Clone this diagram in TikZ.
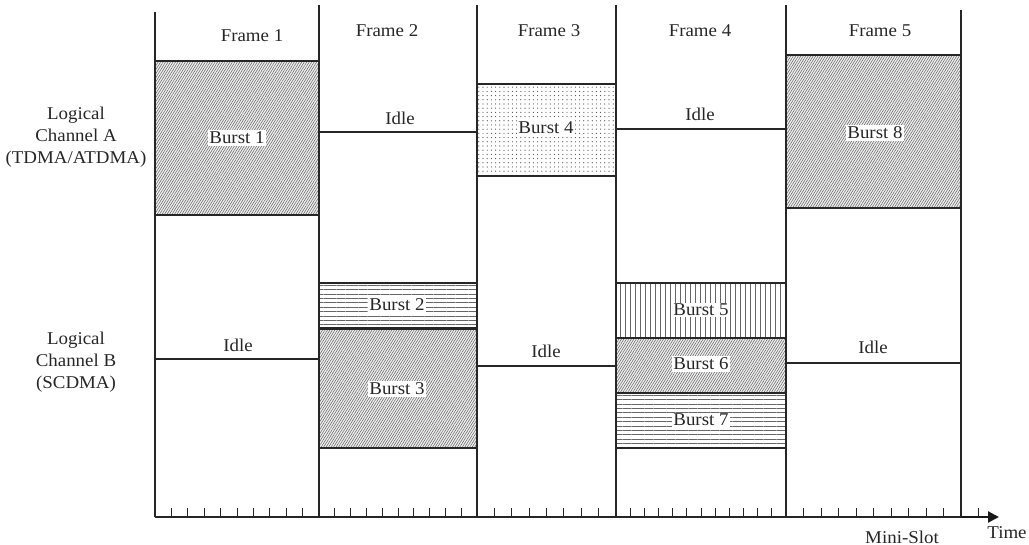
\documentclass[tikz,border=0pt]{standalone}
\usepackage{fontspec}
\setmainfont[FakeStretch=1.05]{Liberation Serif}
\usetikzlibrary{arrows.meta,patterns.meta}
\begin{document}
\begin{tikzpicture}[x=1pt,y=-1pt,
  every node/.style={font=\fontsize{18}{22}\selectfont, inner sep=1.5pt, text=black!85},
  frameline/.style={line width=1.3pt, black!85},
  edge/.style={line width=1.3pt, black!85},
  hatched/.style={fill=gray!12, postaction={pattern={Lines[angle=58,distance=2.1pt,line width=0.55pt]}, pattern color=black!60}},
  dotted fill/.style={postaction={pattern={Dots[radius=0.6pt,distance=4.2pt]}, pattern color=black!70}},
  hlines/.style={postaction={pattern={Lines[angle=0,distance=4.4pt,line width=1pt]}, pattern color=black!60}},
  vlines/.style={postaction={pattern={Lines[angle=90,distance=5pt,line width=1pt]}, pattern color=black!60}},
  tag/.style={fill=white},
  tick/.style={line width=1pt, black!85}]
\useasboundingbox (0,0) rectangle (1029,545);

% frame boundaries on the time axis
\coordinate (x0) at (155,517);
\coordinate (x1) at (319,517);
\coordinate (x2) at (477,517);
\coordinate (x3) at (616,517);
\coordinate (x4) at (786,517);
\coordinate (x5) at (961,517);
\coordinate (tend) at (999,517);

% Channel A
\path[hatched] (155,61) rectangle (319,215);
\draw[edge] (155,61) -- (319,61) (155,215) -- (319,215);
\node[tag] (b1) at (237,138) {Burst 1};
\draw[edge] (319,132) -- (477,132);
\node (idA2) at (400,118) {Idle};
\path[dotted fill] (477,84) rectangle (616,176);
\draw[edge] (477,84) -- (616,84) (477,176) -- (616,176);
\node[tag] (b4) at (546,128) {Burst 4};
\draw[edge] (616,129) -- (786,129);
\node (idA4) at (700,114) {Idle};
\path[hatched] (786,55) rectangle (961,208);
\draw[edge] (786,55) -- (961,55) (786,208) -- (961,208);
\node[tag] (b8) at (875,133) {Burst 8};

% Channel B
\draw[edge] (155,359) -- (319,359);
\node (idB1) at (238,345) {Idle};
\path[hlines] (319,283) rectangle (477,328);
\draw[edge] (319,283) -- (477,283) (319,328) -- (477,328);
\node[tag] (b2) at (397,305) {Burst 2};
\path[hatched] (319,329) rectangle (477,448);
\draw[edge] (319,329) -- (477,329) (319,448) -- (477,448);
\node[tag] (b3) at (397,389) {Burst 3};
\draw[edge] (477,366) -- (616,366);
\node (idB3) at (546,351) {Idle};
\path[vlines] (616,283) rectangle (786,338);
\path[hatched] (616,338) rectangle (786,393);
\path[hlines] (616,393) rectangle (786,448);
\draw[edge] (616,283) -- (786,283) (616,338) -- (786,338) (616,393) -- (786,393) (616,448) -- (786,448);
\node[tag] (b5) at (701,310) {Burst 5};
\node[tag] (b6) at (701,364) {Burst 6};
\node[tag] (b7) at (701,420) {Burst 7};
\draw[edge] (786,363) -- (961,363);
\node (idB5) at (873,347) {Idle};

% frame boundaries
\draw[frameline] (155,12) -- (x0);
\draw[frameline] (319,5) -- (x1);
\draw[frameline] (477,5) -- (x2);
\draw[frameline] (616,5) -- (x3);
\draw[frameline] (786,5) -- (x4);
\draw[frameline] (961,10) -- (x5);

% frame titles
\node (f1) at (252,36) {Frame 1};
\node (f2) at (387,31) {Frame 2};
\node (f3) at (549,31) {Frame 3};
\node (f4) at (700,31) {Frame 4};
\node (f5) at (880,31) {Frame 5};

% channel names
\node[align=center] (chA) at (76,137) {Logical\\Channel A\\(TDMA/ATDMA)};
\node[align=center] (chB) at (76,362) {Logical\\Channel B\\(SCDMA)};

% mini-slot ticks
\foreach \i in {1,...,9} \draw[tick] ({155+\i*16.4},517) -- ++(0,-9);
\foreach \i in {1,...,9} \draw[tick] ({319+\i*15.8},517) -- ++(0,-9);
\foreach \i in {1,...,7} \draw[tick] ({477+\i*17.375},517) -- ++(0,-9);
\foreach \i in {1,...,11} \draw[tick] ({616+\i*14.17},517) -- ++(0,-9);
\foreach \i in {1,...,9} \draw[tick] ({786+\i*17.5},517) -- ++(0,-9);
\draw[tick] (978,517) -- ++(0,-9);

% time axis
\draw[edge] (x0) -- (x5);
\draw[line width=2.2pt, black!90, -{Triangle[length=11pt,width=11pt]}] (x5) -- (tend);
\node (time) at (1007,533) {Time};
\node (ms) at (902,537) {Mini-Slot};
\end{tikzpicture}
\end{document}
